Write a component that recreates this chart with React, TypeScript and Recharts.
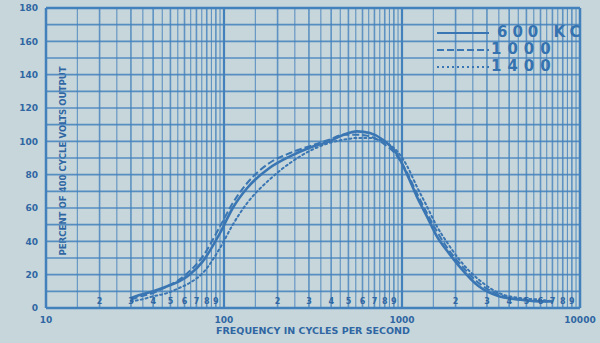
import React from 'react';
import { LineChart, Line, XAxis, YAxis, ReferenceLine, Legend, Customized } from 'recharts';

// Frequencies (cycles per second) at which values are read
const frequencies = [30, 34, 40, 48, 56, 64, 76, 95, 112, 135, 180, 235, 300, 390, 470, 560, 660, 780, 940, 1070, 1210, 1380, 1570, 1800, 2100, 2700, 3500, 4600, 6000, 7000];
// Percent of 400 cycle volts output
const kc600 = [6, 8, 10, 13, 16, 20, 28, 45, 60, 72, 84, 91, 96, 100, 104, 106, 105, 101, 92, 80, 67, 55, 43, 34, 25, 13, 7, 5, 4, 4];
const kc1000 = [5, 7, 9, 13, 17, 22, 31, 49, 63, 75, 87, 93, 97, 101, 104, 104, 103, 99, 91, 81, 69, 57, 46, 36, 27, 15, 8, 5, 4, 4];
const kc1400 = [4, 5, 7, 9, 12, 15, 21, 36, 50, 63, 77, 87, 94, 99, 101, 102, 102, 100, 94, 85, 73, 61, 49, 39, 29, 17, 9, 6, 5, 4];

const seriesNames = ['600 KC', '1000', '1400'];
const seriesDashes = [undefined, '7 3', '2 3'];

const xTicks = [10, 100, 1000, 10000];
const yTicks = [0, 20, 40, 60, 80, 100, 120, 140, 160, 180];
const yGrid = [10, 20, 30, 40, 50, 60, 70, 80, 90, 100, 110, 120, 130, 140, 150, 160, 170];
const decades = [10, 100, 1000];
const minorSteps = [1.5, 2, 2.5, 3, 3.5, 4, 4.5, 5, 5.5, 6, 6.5, 7, 7.5, 8, 8.5, 9, 9.5];
const digitSteps = [2, 3, 4, 5, 6, 7, 8, 9];

const data = frequencies.map((f, i) => ({ f, a: kc600[i], b: kc1000[i], c: kc1400[i] }));

const BG = '#c7d6da';
const GRID = '#4281bc';
const INK = '#2f66a3';
const CURVE = '#3a76b3';

const LegendBox = () => (
  <div style={{ width: 160 }}>
    {seriesNames.map((name, i) => (
      <div key={name} style={{ display: 'flex', alignItems: 'center', height: 17 }}>
        <svg width={56} height={10} style={{ display: 'block', flex: 'none' }}>
          <line x1={2} x2={54} y1={5} y2={5} stroke={CURVE} strokeWidth={2}
            strokeDasharray={seriesDashes[i]} />
        </svg>
        <span style={{
          fontFamily: 'DejaVu Sans', fontSize: 15, color: '#3572b0',
          letterSpacing: i === 0 ? 5 : 6, lineHeight: '17px', marginLeft: i === 0 ? 6 : 0,
          whiteSpace: 'nowrap', fontWeight: 'bold',
        }}>{name}</span>
      </div>
    ))}
  </div>
);

const YTitle = () => (
  <text x={63} y={161} transform="rotate(-90 63 161)" textAnchor="middle" dominantBaseline="middle"
    fontFamily="DejaVu Sans" fontSize={8.6} fontWeight="bold" fill={INK}>
    PERCENT OF 400 CYCLE VOLTS OUTPUT
  </text>
);

export default function App() {
  const verticals: { v: number; digit?: number }[] = [];
  decades.forEach((d) => {
    minorSteps.forEach((s) => {
      verticals.push({ v: d * s, digit: digitSteps.includes(s) ? s : undefined });
    });
  });
  return (
    <div style={{ position: 'absolute', left: 0, top: 0, width: 600, height: 343, background: BG }}>
      <LineChart width={600} height={343} data={data} margin={{ top: 8, right: 20, bottom: 5, left: 0 }}>
        {yGrid.map((y) => (
          <ReferenceLine key={'h' + y} y={y} stroke={GRID} strokeWidth={1.6} strokeOpacity={0.85} />
        ))}
        {verticals.map(({ v, digit }) => (
          <ReferenceLine key={'v' + v} x={v} stroke={GRID} strokeWidth={digit ? 1.6 : 1.1} strokeOpacity={0.8}
            label={digit ? { value: String(digit), position: 'insideBottom', offset: 4, fontSize: 8, fontWeight: 'bold', fill: INK, fontFamily: 'DejaVu Sans' } : undefined} />
        ))}
        <ReferenceLine x={100} stroke={GRID} strokeWidth={2.2} />
        <ReferenceLine x={1000} stroke={GRID} strokeWidth={2.2} />
        <ReferenceLine x={10} stroke={GRID} strokeWidth={2.5} />
        <ReferenceLine x={10000} stroke={GRID} strokeWidth={2.5} />
        <ReferenceLine y={0} stroke={GRID} strokeWidth={2.5} />
        <ReferenceLine y={180} stroke={GRID} strokeWidth={2.5} />
        <XAxis dataKey="f" type="number" scale="log" domain={[10, 10000]} ticks={xTicks} allowDataOverflow
          axisLine={false} tickLine={false} tickSize={0} tickMargin={9} height={30} interval={0}
          tick={{ fontSize: 9, fontWeight: 'bold', fill: INK, fontFamily: 'DejaVu Sans' }}
          label={{ value: 'FREQUENCY IN CYCLES PER SECOND', position: 'insideBottom', offset: 4, fontSize: 9.5, fontWeight: 'bold', fill: INK, fontFamily: 'DejaVu Sans' }} />
        <YAxis type="number" domain={[0, 180]} ticks={yTicks} allowDataOverflow width={46}
          axisLine={false} tickLine={false} tickSize={0} tickMargin={8} interval={0}
          tick={{ fontSize: 9, fontWeight: 'bold', fill: INK, fontFamily: 'DejaVu Sans' }} />
        <Line dataKey="a" name={seriesNames[0]} type="monotone" stroke={CURVE} strokeWidth={2.6} dot={false} isAnimationActive={false} />
        <Line dataKey="b" name={seriesNames[1]} type="monotone" stroke={CURVE} strokeWidth={2} strokeDasharray={seriesDashes[1]} dot={false} isAnimationActive={false} />
        <Line dataKey="c" name={seriesNames[2]} type="monotone" stroke={CURVE} strokeWidth={2} strokeDasharray={seriesDashes[2]} strokeLinecap="round" dot={false} isAnimationActive={false} />
        <Legend layout="horizontal" verticalAlign="middle" align="center" content={LegendBox}
          wrapperStyle={{ position: 'absolute', left: 435, top: 24, width: 160, height: 52 }} />
        <Customized component={YTitle} />
      </LineChart>
    </div>
  );
}
